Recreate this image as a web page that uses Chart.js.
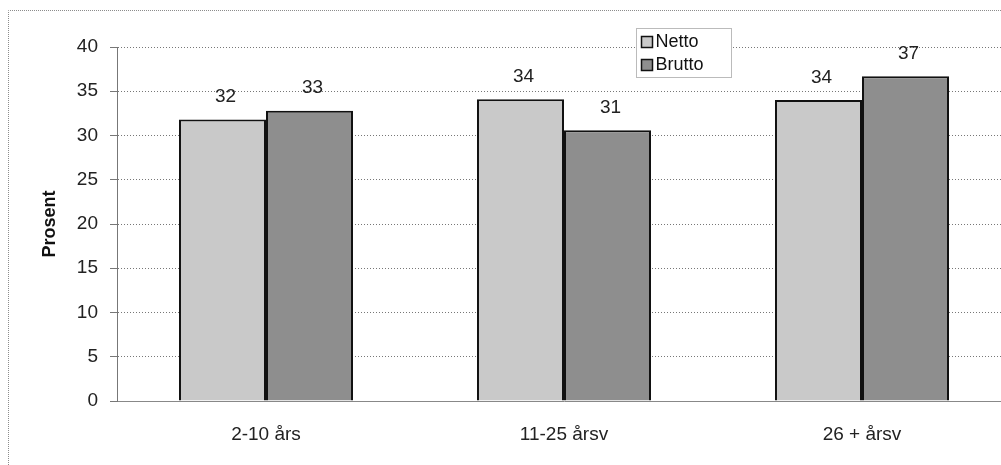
<!DOCTYPE html>
<html lang="no">
<head>
<meta charset="UTF-8">
<title>Prosent</title>
<script src="https://cdn.jsdelivr.net/npm/chart.js@4.4.1/dist/chart.umd.min.js"></script>
<style>
  html, body { margin: 0; padding: 0; overflow: hidden; background: #fff; }
  #wrap { position: absolute; left: 0; top: 0; width: 1012px; height: 465px; }
</style>
</head>
<body>
<div id="wrap"><canvas id="chart" width="1012" height="465"></canvas></div>
<script>
const categories = ['2-10 års', '11-25 årsv', '26 + årsv']
const netto = [31.8, 34.1, 34.0]
const brutto = [32.8, 30.6, 36.7]
const yTicks = [0, 5, 10, 15, 20, 25, 30, 35, 40]

const font = "'Liberation Sans', Arial, sans-serif"

// dotted outer frame
const framePlugin = {
    id: 'frame',
    beforeDraw(chart) {
        const c = chart.ctx
        c.save()
        c.strokeStyle = '#8c8c8c'
        c.setLineDash([1, 1])
        c.lineWidth = 1
        c.beginPath()
        c.moveTo(8.5, 465)
        c.lineTo(8.5, 10.5)
        c.lineTo(1012, 10.5)
        c.stroke()
        c.restore()
    }
}

// value labels above bars
const labelPlugin = {
    id: 'valLabels',
    afterDatasetsDraw(chart) {
        const c = chart.ctx
        c.save()
        c.font = '19px ' + font
        c.fillStyle = '#222'
        c.textAlign = 'center'
        c.textBaseline = 'bottom'
        chart.data.datasets.forEach((ds, i) => {
            chart.getDatasetMeta(i).data.forEach((bar, j) => {
                c.fillText(Math.round(ds.data[j]), bar.x + 3, bar.y - 13)
            })
        })
        c.restore()
    }
}

// legend box drawn over the plot
const legendPlugin = {
    id: 'boxLegend',
    afterDraw(chart) {
        const c = chart.ctx
        const x = 636.5, y = 28.5, w = 95, h = 49
        c.save()
        c.fillStyle = '#fff'
        c.fillRect(x, y, w, h)
        c.strokeStyle = '#777'
        c.setLineDash([1, 1])
        c.strokeRect(x, y, w, h)
        c.setLineDash([])
        c.font = '18px ' + font
        c.textBaseline = 'middle'
        chart.data.datasets.forEach((ds, i) => {
            const yy = y + 13 + i * 23
            c.fillStyle = ds.backgroundColor
            c.fillRect(x + 5, yy - 5, 11, 11)
            c.strokeStyle = '#111'
            c.lineWidth = 1.5
            c.strokeRect(x + 5, yy - 5, 11, 11)
            c.fillStyle = '#111'
            c.fillText(ds.label, x + 19, yy + 1)
        })
        c.restore()
    }
}

const ctx = document.getElementById('chart').getContext('2d')
new Chart(ctx, {
    type: 'bar',
    data: {
        labels: categories,
        datasets: [{
            label: 'Netto',
            data: netto,
            backgroundColor: '#c9c9c9',
            borderColor: '#111',
            borderWidth: 2,
            categoryPercentage: 0.584,
            barPercentage: 1
        }, {
            label: 'Brutto',
            data: brutto,
            backgroundColor: '#8e8e8e',
            borderColor: '#111',
            borderWidth: 2,
            categoryPercentage: 0.584,
            barPercentage: 1
        }]
    },
    options: {
        responsive: false,
        animation: false,
        layout: { padding: { top: 47, right: 1, left: 0, bottom: 0 } },
        plugins: {
            legend: { display: false },
            tooltip: { enabled: false }
        },
        scales: {
            x: {
                grid: { display: false },
                border: { color: '#888', width: 1 },
                ticks: { color: '#222', font: { family: font, size: 19 }, padding: 14 },
                afterFit(scale) { scale.height = 64 }
            },
            y: {
                min: 0,
                max: 40,
                afterBuildTicks(scale) { scale.ticks = yTicks.map(v => ({ value: v })) },
                grid: { color: '#777', tickLength: 7, lineWidth: 1 },
                border: { color: '#777', dash: [1, 2] },
                ticks: { color: '#222', font: { family: font, size: 19 }, padding: 12 },
                title: {
                    display: true,
                    text: 'Prosent',
                    color: '#111',
                    font: { family: font, size: 18, weight: 'bold' },
                    padding: { top: 39, bottom: 0 }
                },
                afterFit(scale) { scale.width = 117 }
            }
        }
    },
    plugins: [framePlugin, labelPlugin, legendPlugin]
})
</script>
</body>
</html>
